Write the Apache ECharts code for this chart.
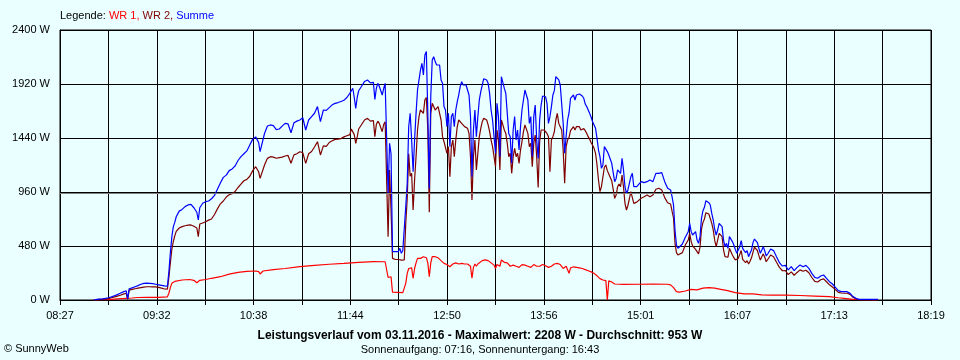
<!DOCTYPE html>
<html><head><meta charset="utf-8">
<script src="https://cdn.jsdelivr.net/npm/echarts@6/dist/echarts.min.js"></script>
<style>html,body{margin:0;padding:0;background:#eaffff}#c{width:960px;height:360px}</style>
</head><body><div id="c"></div>
<script>
// x axis: minutes of day (08:27 = 507, 18:19 = 1099)
const axisStart = 507, axisEnd = 1099;
const tickLabels = ['08:27','09:32','10:38','11:44','12:50','13:56','15:01','16:07','17:13','18:19'];
const average = 953;

// shared time stamps for WR 2 and Summe (minutes of day)
const times = [
530,532,534,536,538,540,542,544,546,548,
550,551,552,553,554,556,558,560,562,564,
566,568,570,572,574,576,578,580,581,582,
583,584,585,586,588,590,592,594,596,598,
600,601,602,604,606,608,610,612,614,616,
618,620,622,624,626,628,630,632,634,636,
638,640,642,643,644,646,648,650,652,654,
656,658,660,662,664,666,668,670,672,674,
676,678,680,682,684,686,688,690,692,694,
696,698,700,702,704,705,706,707,708,709,
710,712,714,716,718,719,720,721,722,723,
724,
725,726,727,728,729,730,731,732,733,734,
735,736,737,738,739,740,741,742,743,744,
745,746,747,748,749,750,751,752,753,754,
755,756,757,758,759,760,761,762,763,764,
765,766,767,768,769,770,771,772,773,774,
775,776,777,778,779,780,781,782,783,784,
785,786,787,788,789,790,791,792,793,794,
795,796,797,798,799,800,801,802,803,804,
805,806,807,808,809,810,811,812,813,814,
815,816,817,818,819,820,821,822,823,824,
825,826,827,828,829,830,831,832,833,834,
835,836,837,838,839,840,841,842,843,844,
845,846,847,848,849,850,851,852,853,854,
855,856,857,858,859,860,861,862,863,864,
865,866,867,868,869,870,871,872,873,874,
875,876,877,878,879,880,881,882,883,884,
885,886,887,888,
889,890,891,892,893,894,895,896,897,898,899,900,
902,904,906,908,910,912,914,916,918,920,
921,922,923,924,925,926,927,928,
930,932,934,
935,936,937,938,939,940,941,942,943,944,
945,946,947,948,949,950,951,952,953,954,
955,956,957,958,959,960,961,962,963,964,
965,966,967,968,969,970,971,972,973,974,
975,976,977,978,979,980,981,982,983,984,
985,986,987,988,
990,992,994,996,998,1000,1002,1004,1006,1008,
1010,1012,1014,1016,1018,1020,1022,1024,1026,1028,
1030,1032,1034,1036,1038,1040,1042,1044,1046,1048,
1050,1055,1060,1063
];

// Summe (W)
const summe = [
0,5,8,10,15,20,28,38,48,60,
72,78,82,10,100,108,118,128,140,148,
150,148,145,140,135,130,125,122,250,420,
560,650,690,740,790,805,830,845,850,820,
780,711,820,860,874,880,900,930,985,1040,
1090,1110,1150,1165,1191,1240,1275,1300,1325,1378,
1430,1450,1400,1318,1318,1480,1547,1556,1550,1515,
1520,1545,1570,1565,1487,1575,1590,1600,1620,1511,
1600,1630,1660,1719,1585,1689,1685,1710,1735,1748,
1755,1765,1775,1800,1837,1860,1882,1800,1704,1800,
1860,1900,1943,1956,1930,1940,1935,1783,1880,1926,
1900,
1900,1822,1880,1926,1926,950,1393,1300,430,430,
430,425,430,459,415,440,444,830,1037,1540,
1659,1422,1141,1422,1659,1867,1956,2044,2104,2000,
2178,2208,1659,990,1807,2133,2163,2119,2089,2074,
2089,1956,1926,1719,1689,1541,1659,1363,1630,1659,
1541,1689,1763,1822,1896,1941,1911,1896,1911,1867,
1822,1630,1096,1511,1689,1452,1630,1778,1852,1911,
1967,1979,1956,1926,1837,1689,1600,1452,1304,1748,
1630,1274,1985,1970,1881,1837,1659,1481,1452,1215,
1511,1630,1422,1511,1333,1541,1689,1778,1867,1881,
1778,1570,1630,1274,1630,1733,1422,1259,1600,1733,
1813,1822,1807,1748,1570,1630,1719,1822,1861,1985,
1991,1956,1911,1911,1570,1304,1452,1600,1665,1793,
1793,1822,1778,1822,1807,1831,1822,1813,1793,1742,
1719,1689,1659,1624,1585,1556,1526,1437,1333,1274,
1170,1200,1363,1378,1319,1289,1298,1215,1132,1052,
1081,1156,1170,1126,
1259,1156,1007,948,978,1037,1096,1126,1007,993,1007,1022,
1052,1043,1052,1067,1052,1126,1126,1132,1052,993,
993,978,918,844,622,489,459,468,
498,557,607,
681,607,578,593,607,533,504,563,726,794,
824,883,883,865,844,770,711,628,578,622,
681,687,652,533,474,504,459,563,578,519,
489,450,415,444,474,527,459,439,421,439,
385,415,444,510,542,539,510,459,415,444,
474,436,391,409,
453,439,385,332,302,308,267,296,261,290,
311,296,308,281,237,201,193,213,222,193,
163,142,113,83,74,74,74,59,30,15,
6,6,6,6
];

// WR 2 (W)
const wr2 = [
0,3,5,5,8,12,20,28,35,42,
52,57,60,5,88,95,100,105,110,115,
118,118,117,116,112,105,98,96,200,330,
450,520,570,610,640,652,660,665,667,655,
640,563,675,685,695,710,720,760,810,855,
880,915,935,945,965,1000,1030,1060,1072,1100,
1150,1185,1140,1081,1081,1200,1259,1274,1270,1260,
1265,1270,1280,1285,1215,1290,1300,1318,1310,1215,
1300,1320,1360,1407,1289,1370,1365,1400,1415,1428,
1430,1435,1450,1460,1470,1520,1526,1470,1393,1450,
1520,1560,1600,1615,1590,1600,1595,1452,1560,1590,
1570,
1570,1496,1560,1585,1585,563,1156,800,370,360,
360,355,360,370,355,360,356,681,900,1300,
1100,1126,800,1067,1274,1511,1630,1689,1704,1659,
1780,1800,1511,780,1659,1748,1733,1689,1704,1719,
1659,1600,1452,1407,1393,1304,1363,1096,1363,1422,
1274,1422,1541,1600,1600,1570,1556,1541,1541,1526,
1481,1274,889,1274,1422,1156,1304,1452,1526,1585,
1615,1615,1600,1556,1496,1422,1363,1274,1185,1511,
1422,1156,1600,1556,1511,1481,1393,1274,1304,1126,
1274,1348,1274,1304,1215,1333,1407,1496,1556,1556,
1481,1363,1393,1185,1393,1467,1274,1000,1407,1511,
1517,1511,1496,1481,1452,1141,1422,1452,1496,1600,
1659,1570,1541,1511,1333,1037,1363,1422,1446,1505,
1517,1541,1511,1541,1526,1541,1511,1517,1523,1505,
1481,1452,1428,1398,1375,1348,1304,1200,1067,963,
1007,1020,1180,1200,1150,1120,1120,1060,984,904,
933,1007,1031,1007,
1111,1007,859,800,840,900,963,970,859,860,870,880,
904,918,933,918,933,984,993,978,910,865,
865,853,790,730,504,421,400,391,
421,489,533,
593,519,480,468,450,440,410,470,630,690,
720,776,776,764,747,681,622,530,474,533,
593,599,563,444,385,400,380,459,459,400,
376,356,345,370,385,440,361,350,332,350,
320,345,375,424,470,470,440,395,355,385,
410,380,340,350,
400,385,335,290,260,262,225,250,220,245,
268,255,265,242,200,165,160,180,188,162,
135,115,92,68,62,60,60,50,24,9,
3,0,0,0
];

// WR 1 (own time stamps, minutes of day) and values (W)
const wr1Times = [
530,540,546,552,556,560,566,574,580,581,582,583,585,590,595,598,600,602,606,610,
616,622,628,634,640,642,643,645,652,660,670,680,690,700,710,720,728,729,730,731,
732,733,740,741,742,743,744,745,746,747,748,749,750,752,754,756,757,758,759,760,
762,764,766,768,770,772,774,776,778,780,782,784,786,787,788,789,790,791,792,794,
796,798,800,802,803,804,806,807,809,811,813,815,817,819,821,823,825,827,829,831,
833,835,837,839,841,843,845,847,849,851,853,854,856,858,860,862,864,866,868,870,
872,874,876,878,879,880,882,884,890,900,910,920,922,924,926,928,932,936,940,944,
948,952,956,960,966,972,978,984,990,1000,1010,1020,1030,1036,1040,1046,1050,1063
];
const wr1 = [
0,3,10,15,18,22,24,24,28,60,110,148,165,178,182,175,154,175,182,193,
207,230,245,255,258,252,231,258,270,280,296,308,318,326,335,341,340,330,200,215,
207,70,65,70,148,237,280,296,285,193,280,330,370,370,385,375,330,207,330,385,
385,375,350,326,315,296,320,330,320,326,320,320,300,193,290,320,300,320,326,350,
356,350,330,310,280,315,300,356,335,330,300,310,300,290,315,310,300,290,315,300,
300,315,305,290,300,320,326,315,280,300,237,285,295,290,285,280,270,260,250,237,
215,190,178,172,0,170,160,142,139,140,142,140,135,110,74,70,80,95,90,105,
110,105,95,85,65,55,55,45,44,44,40,35,30,20,15,5,3,0
];

const FONT = '"Liberation Sans", Arial, sans-serif';
const pairs = (t, v) => t.map((x, i) => [x, v[i]]);

const chart = echarts.init(document.getElementById('c'), null, {renderer: 'canvas'});
const lineSeries = (name, color, data, extra) => Object.assign({
  name, type: 'line', xAxisIndex: 0, yAxisIndex: 0, data,
  showSymbol: false, symbol: 'none', silent: true,
  lineStyle: {color, width: 1.2}, itemStyle: {color}
}, extra || {});

chart.setOption({
  backgroundColor: '#eaffff',
  animation: false,
  textStyle: {fontFamily: FONT},
  grid: {left: 60, top: 30, width: 871, height: 270, show: true, borderColor: '#000', borderWidth: 1,
         backgroundColor: 'transparent', containLabel: false, outerBoundsMode: 'none'},
  title: [
    {left: 60, top: 10, padding: 0, text: '{k|Legende: }{r|WR 1, }{d|WR 2, }{b|Summe}',
     textStyle: {fontFamily: FONT, fontSize: 11, fontWeight: 'normal', rich: {
       k: {color: '#000', fontSize: 11, fontFamily: FONT},
       r: {color: '#ff0000', fontSize: 11, fontFamily: FONT},
       d: {color: '#800000', fontSize: 11, fontFamily: FONT},
       b: {color: '#0000ff', fontSize: 11, fontFamily: FONT}}}},
    {left: 'center', top: 330, padding: 0,
     text: 'Leistungsverlauf vom 03.11.2016 - Maximalwert: 2208 W - Durchschnitt: 953 W',
     textStyle: {fontFamily: FONT, fontSize: 12, fontWeight: 'bold', color: '#000'}},
    {left: 'center', top: 344, padding: 0,
     text: 'Sonnenaufgang: 07:16, Sonnenuntergang: 16:43',
     textStyle: {fontFamily: FONT, fontSize: 11, fontWeight: 'normal', color: '#000'}},
    {left: 4, top: 343, padding: 0, text: '© SunnyWeb',
     textStyle: {fontFamily: FONT, fontSize: 11, fontWeight: 'normal', color: '#000'}}
  ],
  xAxis: [
    {type: 'value', min: axisStart, max: axisEnd, show: false, position: 'top'},
    {type: 'value', min: 0, max: (tickLabels.length - 1) * 2, interval: 1, position: 'bottom',
     axisLine: {show: true, lineStyle: {color: '#000', width: 1}},
     axisTick: {show: true, inside: false, length: 5, lineStyle: {color: '#000', width: 1}},
     axisLabel: {show: true, color: '#000', fontSize: 11, fontFamily: FONT, margin: 10,
       showMinLabel: true, showMaxLabel: true,
       formatter: v => (Math.round(v) % 2 === 0 ? tickLabels[Math.round(v) / 2] : '')},
     splitLine: {show: true, lineStyle: {color: '#000', width: 1}}}
  ],
  yAxis: {type: 'value', min: 0, max: 2400, interval: 480,
    axisLine: {show: true, lineStyle: {color: '#000', width: 1}},
    axisTick: {show: false},
    axisLabel: {formatter: v => v + ' W', color: '#000', fontSize: 11, fontFamily: FONT, margin: 10},
    splitLine: {show: true, lineStyle: {color: '#000', width: 1}}},
  series: [
    lineSeries('WR 1', '#ff0000', pairs(wr1Times, wr1), {
      markLine: {silent: true, symbol: ['none', 'none'], label: {show: false},
        lineStyle: {color: '#808080', type: 'solid', width: 1},
        data: [{yAxis: average}]}}),
    lineSeries('WR 2', '#800000', pairs(times, wr2)),
    lineSeries('Summe', '#0000ff', pairs(times, summe))
  ]
});
</script>
</body></html>
